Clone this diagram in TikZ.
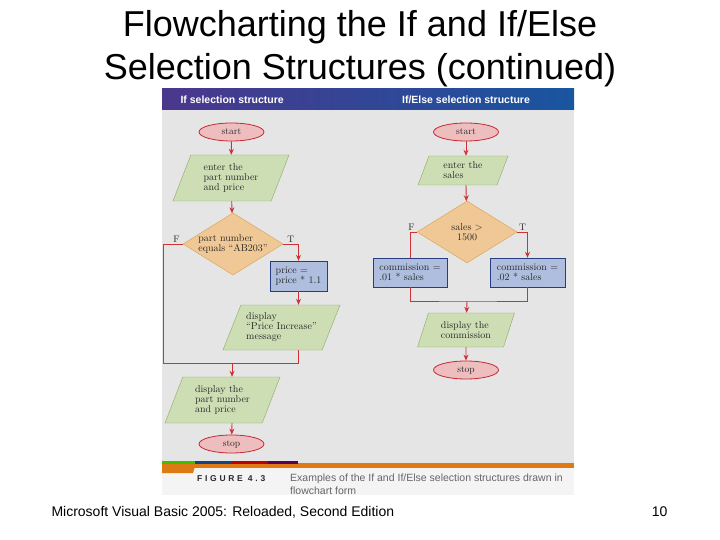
\documentclass[tikz,border=0pt]{standalone}
\usepackage{fontspec}
\newfontfamily\slidefont{Liberation Sans}
\newfontfamily\capfont{Liberation Sans}[LetterSpace=32]
\usetikzlibrary{shapes.geometric,arrows.meta}

\definecolor{termfill}{RGB}{238,190,190}
\definecolor{termdraw}{RGB}{200,40,50}
\definecolor{iofill}{RGB}{205,222,180}
\definecolor{iodraw}{RGB}{140,170,100}
\definecolor{decfill}{RGB}{240,200,150}
\definecolor{decdraw}{RGB}{215,160,80}
\definecolor{procfill}{RGB}{175,190,222}
\definecolor{procdraw}{RGB}{40,60,130}
\definecolor{flowred}{RGB}{205,50,55}
\definecolor{panelgray}{RGB}{229,229,229}
\definecolor{capwhite}{RGB}{244,244,244}
\definecolor{barblue}{RGB}{25,85,160}
\definecolor{barpurple}{RGB}{75,55,140}
\definecolor{figorange}{RGB}{222,122,20}
\definecolor{textgray}{RGB}{40,40,40}

\begin{document}
\begin{tikzpicture}[x=1pt, y=-1pt,
    term/.style={draw=termdraw, line width=0.8pt, fill=termfill, ellipse, minimum width=65pt, minimum height=18pt, inner sep=0pt, font=\fontsize{9.5}{10}\selectfont, text=textgray},
    io/.style={draw=iodraw, fill=iofill, trapezium, trapezium left angle=60, trapezium right angle=120, trapezium stretches body, inner sep=1pt, align=left, font=\fontsize{10}{10}\selectfont, text=textgray},
    dec/.style={draw=decdraw, fill=decfill, diamond, aspect=1.6, minimum width=100pt, minimum height=62pt, inner sep=0pt, align=left, font=\fontsize{10}{10}\selectfont, text=textgray},
    proc/.style={draw=procdraw, fill=procfill, rectangle, inner sep=1pt, align=left, font=\fontsize{10}{10}\selectfont, text=textgray},
    hdr/.style={text=white, font=\slidefont\bfseries\fontsize{10.5}{12}\selectfont},
    conn/.style={draw=flowred, line width=0.9pt},
    line/.style={conn, -{Stealth[length=6pt, width=5pt]}},
    lbl/.style={font=\fontsize{9.5}{10}\selectfont, text=textgray, inner sep=1.5pt}
  ]
  \useasboundingbox (0,0) rectangle (720,540);

  % slide title and footer
  \node[font=\slidefont\fontsize{36}{43}\selectfont, align=center] (title) at (360,48.5) {Flowcharting the If and If/Else\\Selection Structures (continued)};
  \node[anchor=base west, font=\slidefont\fontsize{14}{16}\selectfont] (book) at (48,516) {Microsoft Visual Basic 2005: Reloaded, Second Edition};
  \node[anchor=base east, font=\slidefont\fontsize{14}{16}\selectfont] (page) at (671,516) {10};

  % figure panel
  \fill[panelgray] (162,110) rectangle (574,463);
  \shade[left color=barpurple, middle color=barblue, right color=barblue] (162,89) rectangle (574,110);
  \fill[capwhite] (162,468) rectangle (574,495);
  \fill[figorange] (162,463) rectangle (574,468);
  \fill[figorange] (162,463) -- (196,463) -- (193,473) -- (162,473) -- cycle;
  \fill[green!50!olive] (162,461) rectangle (195,463.5);
  \fill[barblue!80!black] (195,461) rectangle (232,463.5);
  \fill[red!75!black] (232,461) rectangle (268,463.5);
  \fill[violet!70!black] (268,461) rectangle (298,463.5);

  \node[hdr, anchor=west] (hdrL) at (177,100) {If selection structure};
  \node[hdr] (hdrR) at (466,100) {If/Else selection structure};

  % caption
  \node[anchor=base west, font=\capfont\bfseries\fontsize{8.5}{10}\selectfont, text=textgray, inner sep=0pt] (fig) at (197,481) {FIGURE 4.3};
  \node[anchor=base west, font=\slidefont\fontsize{10.5}{12.5}\selectfont, text=black!60, inner sep=0pt] (cap) at (290,481) {Examples of the If and If/Else selection structures drawn in};
  \begin{scope}
    \clip (162,468) rectangle (574,494);
    \node[anchor=base west, font=\slidefont\fontsize{10.5}{12.5}\selectfont, text=black!60, inner sep=0pt] (cap2) at (290,494) {flowchart form};
  \end{scope}

  % If selection structure
  \node[term] (startL) at (231.5,132) {start};
  \node[io, minimum width=116pt, minimum height=46pt] (inL) at (231,178) {enter the\\part number\\and price};
  \node[dec] (decL) at (233,244) {part number\\equals “AB203”};
  \node[proc, minimum width=57pt, minimum height=30pt] (boxL) at (298.5,276) {price =\\price * 1.1};
  \node[io, minimum width=117pt, minimum height=45pt] (showL) at (281.5,327.5) {display\\“Price Increase”\\message};
  \node[io, minimum width=115pt, minimum height=46pt] (outL) at (222.5,400) {display the\\part number\\and price};
  \node[term] (stopL) at (231.5,444) {stop};
  \coordinate (cornerL) at (163,363);
  \coordinate (mergeL) at (232,363);

  \draw[line] (startL) -- (inL);
  \draw[line] (inL) -- (decL);
  \draw[line] (decL.east) -| node[lbl, pos=0.25, above] {T} (boxL.north);
  \draw[line] (boxL) -- (boxL.south |- showL.north);
  \draw[conn] (decL.west) -| node[lbl, pos=0.16, above] {F} (cornerL) -- (mergeL);
  \draw[conn] (boxL.south |- showL.south) |- (mergeL);
  \draw[line] (mergeL) -- (mergeL |- outL.north);
  \draw[line] (mergeL |- outL.south) -- (stopL);

  % If/Else selection structure
  \node[term] (startR) at (466,132) {start};
  \node[io, minimum width=90pt, minimum height=29pt] (inR) at (463,170.5) {enter the\\sales};
  \node[dec, align=center] (decR) at (467,232) {sales >\\1500};
  \node[proc, minimum width=74pt, minimum height=29pt] (boxR1) at (410,272.5) {commission =\\.01 * sales};
  \node[proc, minimum width=75pt, minimum height=29pt] (boxR2) at (527.5,272.5) {commission =\\.02 * sales};
  \node[io, minimum width=97pt, minimum height=34pt] (showR) at (466,330) {display the\\commission};
  \node[term] (stopR) at (466,370) {stop};
  \coordinate (mergeR) at (467,301);

  \draw[line] (startR) -- (startR.south |- inR.north);
  \draw[line] (startR.south |- inR.south) -- (decR);
  \draw[conn] (decR.west) -| node[lbl, pos=0.4, above] {F} (boxR1.north);
  \draw[line] (decR.east) -| node[lbl, pos=0.26, above] {T} (boxR2.north);
  \draw[conn] (boxR1.south) |- (mergeR) -| (boxR2.south);
  \draw[line] (mergeR) -- (showR);
  \draw[line] (showR) -- (stopR);
\end{tikzpicture}
\end{document}
